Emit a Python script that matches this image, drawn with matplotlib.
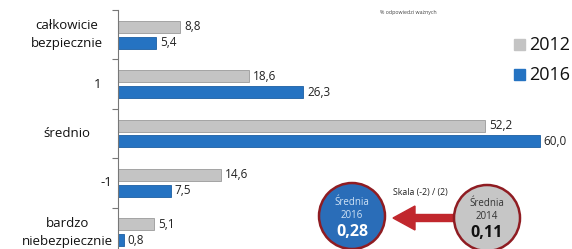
import numpy as np
import matplotlib
matplotlib.use('Agg')
import matplotlib.pyplot as plt
from matplotlib.patches import Circle, FancyArrow

plt.rcParams['font.family'] = ['Open Sans', 'DejaVu Sans']

# dane
categories = ['całkowicie\nbezpiecznie', '1', 'średnio', '-1', 'bardzo\nniebezpiecznie']
values_2012 = [8.8, 18.6, 52.2, 14.6, 5.1]
values_2016 = [5.4, 26.3, 60.0, 7.5, 0.8]
series_names = ['2012', '2016']
mean_2016 = '0,28'
mean_2014 = '0,11'

# położenie etykiet kategorii (ułamek szerokości osi, ujemny = na lewo)
label_x = [-0.115, -0.046, -0.115, -0.026, -0.115]

c_gray = '#c4c4c4'
c_blue = '#2573c2'

W, H = 572, 249
fig = plt.figure(figsize=(W / 100, H / 100), dpi=100)
ax = fig.add_axes([118 / W, 1 - 257 / H, (560 - 118) / W, (257 - 10) / H])

y = np.arange(len(categories))
ax.barh(y - 0.16, values_2012, height=0.24, color=c_gray, edgecolor='#9a9a9a', linewidth=0.6)
ax.barh(y + 0.16, values_2016, height=0.24, color=c_blue, edgecolor='#1d5fa3', linewidth=0.6)

for i in range(len(categories)):
    ax.text(values_2012[i] + 0.6, y[i] - 0.16, f'{values_2012[i]:.1f}'.replace('.', ','),
            va='center', ha='left', fontsize=8.5, color='#222222')
    ax.text(values_2016[i] + 0.6, y[i] + 0.16, f'{values_2016[i]:.1f}'.replace('.', ','),
            va='center', ha='left', fontsize=8.5, color='#222222')
    ax.text(label_x[i], y[i], categories[i], transform=ax.get_yaxis_transform(),
            ha='center', va='center', fontsize=9.5, color='#111111', linespacing=1.45)

ax.set_xlim(0, 62.9)
ax.set_ylim(4.5, -0.5)
ax.set_yticks(np.arange(-0.5, 4.6, 1.0))
ax.set_yticklabels([])
ax.tick_params(axis='y', length=4, color='#777777', width=0.8)
ax.set_xticks([])
for s in ['top', 'right', 'bottom']:
    ax.spines[s].set_visible(False)
ax.spines['left'].set_color('#777777')
ax.spines['left'].set_linewidth(0.8)

# nakładka w pikselach
ov = fig.add_axes([0, 0, 1, 1])
ov.set_xlim(0, W)
ov.set_ylim(H, 0)
ov.axis('off')

ov.text(408, 12, '% odpowiedzi ważnych', fontsize=3.8, color='#444444', ha='center', va='center')

# legenda
for name, col, yy in zip(series_names, [c_gray, c_blue], [45, 75]):
    ov.add_patch(plt.Rectangle((514, yy - 6), 11, 11, color=col))
    ov.text(529, yy, name, fontsize=13, va='center', ha='left', color='#111111')

# strzałka i koła średnich
ov.add_patch(FancyArrow(455, 218, -62, 0, width=7, head_width=24, head_length=22,
                        length_includes_head=True, color='#c1272d', zorder=2))
ov.add_patch(Circle((352, 216), 33, facecolor='#2a6db8', edgecolor='#8f1c22', linewidth=1.8, zorder=3))
ov.add_patch(Circle((487, 218), 33, facecolor='#c6c6c6', edgecolor='#8f1c22', linewidth=1.8, zorder=3))
ov.text(420, 192, 'Skala (-2) / (2)', fontsize=6.3, ha='center', va='center', color='#222222')

ov.text(352, 202, 'Średnia', fontsize=7, ha='center', va='center', color='#cfe2f5', zorder=4)
ov.text(352, 215, '2016', fontsize=7, ha='center', va='center', color='#cfe2f5', zorder=4)
ov.text(352, 232, mean_2016, fontsize=11.5, fontweight='bold', ha='center', va='center', color='white', zorder=4)
ov.text(487, 203, 'Średnia', fontsize=7, ha='center', va='center', color='#333333', zorder=4)
ov.text(487, 216, '2014', fontsize=7, ha='center', va='center', color='#333333', zorder=4)
ov.text(487, 233, mean_2014, fontsize=11.5, fontweight='bold', ha='center', va='center', color='#111111', zorder=4)

fig.savefig('out.png', dpi=100)
